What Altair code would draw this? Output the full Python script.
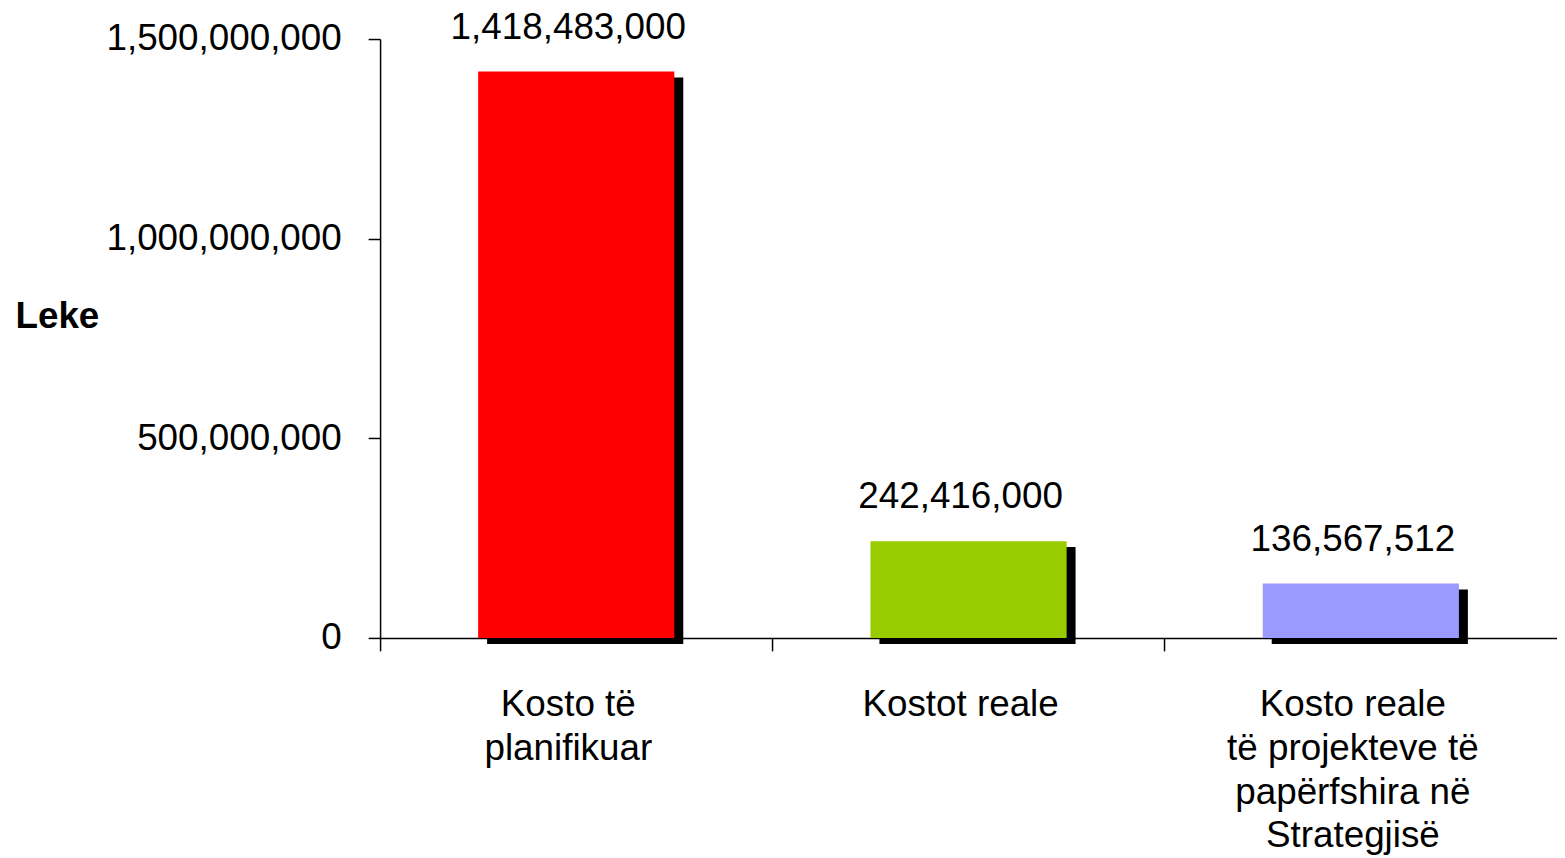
import altair as alt
import pandas as pd

categories = ["Kosto të|planifikuar", "Kostot reale", "Kosto reale|të projekteve të|papërfshira në|Strategjisë"]
values = [1418483000, 242416000, 136567512]
colors = ["#FF0000", "#99CC00", "#9999FF"]
y_ticks = [0, 500000000, 1000000000, 1500000000]

df = pd.DataFrame({"cat": categories, "value": values})

FONT = "Liberation Sans"
FS = 37

x_enc = alt.X(
    "cat:N",
    sort=categories,
    scale=alt.Scale(paddingInner=0, paddingOuter=0),
    axis=alt.Axis(
        title=None,
        labelExpr="split(datum.label, '|')",
        labelAngle=0,
        bandPosition=0,
        labelOffset=-8,
        labelLimit=1000,
        tickSize=13,
        tickColor="black",
        tickWidth=1.5,
        domainColor="black",
        domainWidth=1.5,
        labelFont=FONT,
        labelFontSize=FS,
        labelColor="black",
        labelPadding=36,
        labelLineHeight=44,
        labelBaseline="top",
    ),
)

y_enc = alt.Y(
    "value:Q",
    scale=alt.Scale(domain=[0, 1500000000], nice=False),
    axis=alt.Axis(
        values=y_ticks,
        format=",d",
        title="Leke",
        titleAngle=0,
        titleX=-367,
        titleY=279,
        titleAlign="left",
        titleBaseline="middle",
        titleFont=FONT,
        titleFontSize=FS,
        titleFontWeight="bold",
        titleColor="black",
        grid=False,
        tickSize=12,
        tickColor="black",
        tickWidth=1.5,
        domainColor="black",
        domainWidth=1.5,
        labelFont=FONT,
        labelFontSize=FS,
        labelColor="black",
        labelPadding=27,
        labelLimit=1000,
    ),
)

color_enc = alt.Color("cat:N", sort=categories, scale=alt.Scale(domain=categories, range=colors), legend=None)

base = alt.Chart(df)

shadow = base.mark_bar(
    color="black", width=alt.RelativeBandSize(0.5), xOffset=9, yOffset=6, y2Offset=4
).encode(x=x_enc, y=y_enc)

bars = base.mark_bar(width=alt.RelativeBandSize(0.5)).encode(x=x_enc, y=y_enc, color=color_enc)

labels = base.mark_text(
    font=FONT, fontSize=FS, color="black", baseline="alphabetic", dy=-33, dx=-8
).encode(x=x_enc, y=y_enc, text=alt.Text("value:Q", format=",d"))

chart = (
    alt.layer(shadow, bars, labels)
    .properties(
        width=1183,
        height=602,
        autosize=alt.AutoSizeParams(type="none"),
        padding={"left": 374, "top": 29, "right": 0, "bottom": 219},
    )
    .configure_view(stroke=None)
)

chart.save("out.html", embed_options={"renderer": "svg", "actions": False})
